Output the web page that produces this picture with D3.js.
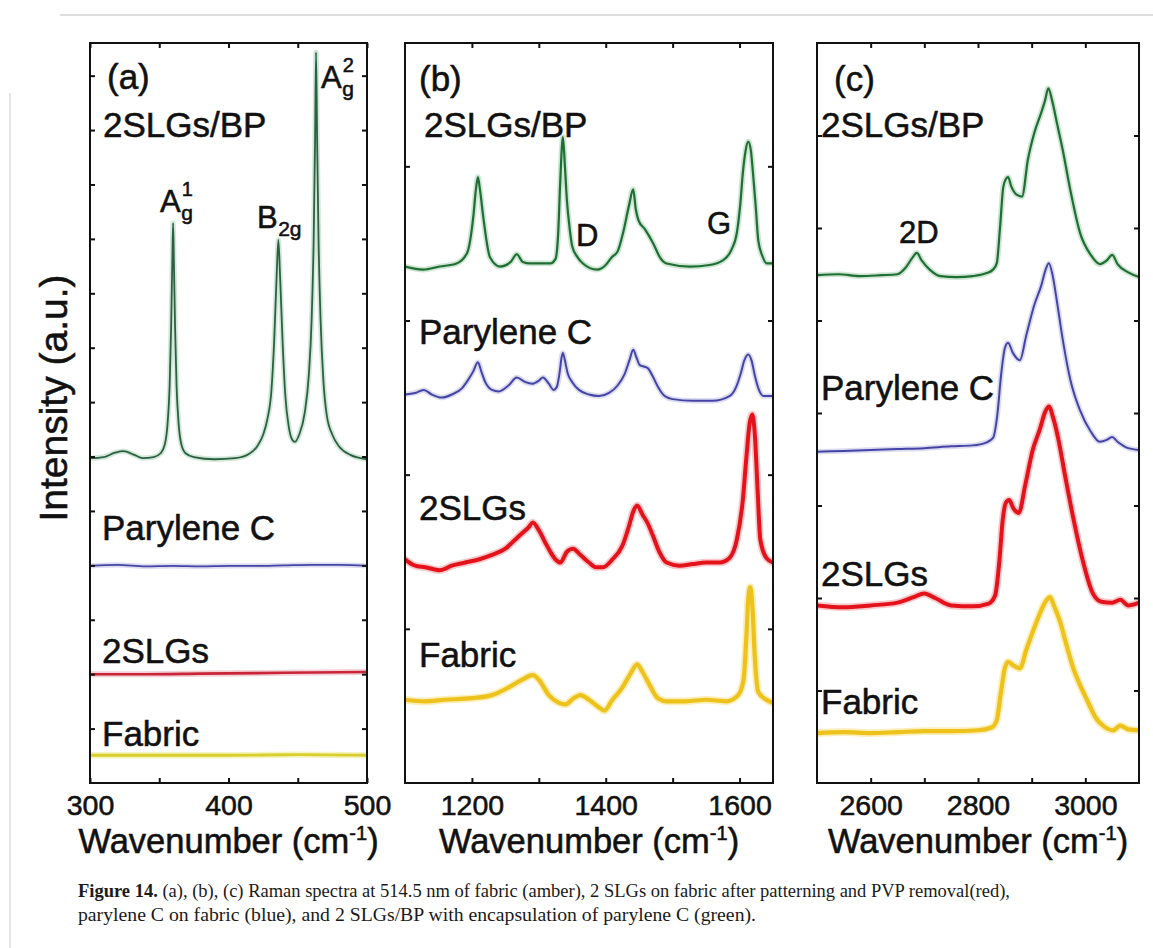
<!DOCTYPE html>
<html>
<head>
<meta charset="utf-8">
<script src="https://cdn.jsdelivr.net/npm/d3@7"></script>
<style>
  body { margin: 0; background: #fff; }
  svg { display: block; }
  text { font-family: "Liberation Sans", Arial, Helvetica, sans-serif; fill: #111; }
  text.lbl { stroke: #111; stroke-width: 0.55px; }
  .caption text { font-family: "Liberation Serif", "Times New Roman", serif; fill: #1a1a1a; }
</style>
</head>
<body>
<svg id="fig" width="1153" height="948"></svg>
<script>
// ---------- Raman spectra, intensity in arbitrary units (stacked, offset) ----------

// (a) low-wavenumber region, 300–500 cm^-1
const aBP = [[300,5.97],[310,5.99],[318,6.07],[324,6.10],[332,6.03],[338,5.97],[346,5.99],[351,6.06],[354,6.22],[356,6.60],[357.5,7.30],[358.6,8.40],[359.4,9.55],[360,10.29],[360.6,9.55],[361.4,8.40],[362.5,7.30],[364,6.60],[366,6.22],[369,6.06],[375,5.99],[390,5.95],[405,5.97],[415,6.05],[421,6.20],[425,6.40],[428,6.68],[431,7.22],[433,8.14],[434.8,9.34],[436,9.98],[437.2,9.34],[439,8.14],[441,7.13],[443.5,6.55],[446,6.31],[448,6.27],[451,6.40],[455,6.80],[458,7.50],[460,8.50],[461.5,10.00],[462.5,11.80],[463.2,13.43],[464,11.80],[465,10.00],[466.5,8.50],[468.5,7.40],[471,6.75],[475,6.40],[480,6.18],[488,6.03],[500,5.95]];
const aParylene = [[300,3.99],[320,4.01],[340,3.98],[360,3.99],[380,3.98],[400,3.99],[420,3.99],[440,4.00],[460,4.01],[480,4.01],[500,3.99]];
const aSLG = [[300,2.00],[340,2.00],[380,2.01],[420,2.02],[460,2.03],[500,2.04]];
const aFabric = [[300,0.51],[350,0.51],[400,0.51],[450,0.52],[500,0.51]];

// (b) D / G band region, 1100–1650 cm^-1
const bBP = [[1100,3.35],[1127,3.33],[1152,3.35],[1177,3.37],[1193,3.44],[1202,3.67],[1206,3.85],[1209,3.93],[1212,3.85],[1217,3.67],[1227,3.41],[1242,3.35],[1258,3.38],[1267,3.43],[1276,3.38],[1287,3.37],[1317,3.37],[1325,3.40],[1329,3.57],[1332,3.90],[1336,4.19],[1339,4.00],[1342,3.78],[1346,3.60],[1350,3.48],[1358,3.41],[1366,3.37],[1387,3.33],[1400,3.36],[1409,3.41],[1418,3.45],[1426,3.57],[1435,3.75],[1441,3.85],[1445,3.72],[1449,3.65],[1459,3.59],[1471,3.50],[1481,3.41],[1491,3.37],[1526,3.35],[1555,3.36],[1575,3.39],[1588,3.46],[1596,3.57],[1601,3.75],[1605,3.96],[1609,4.10],[1613,4.16],[1617,4.10],[1620,3.96],[1624,3.75],[1628,3.52],[1634,3.42],[1641,3.37],[1650,3.37]];
const bParylene = [[1100,2.52],[1115,2.53],[1128,2.55],[1140,2.52],[1155,2.50],[1170,2.52],[1185,2.56],[1195,2.62],[1202,2.67],[1209,2.73],[1214,2.67],[1220,2.60],[1230,2.55],[1240,2.54],[1255,2.58],[1267,2.63],[1280,2.60],[1290,2.59],[1300,2.61],[1306,2.63],[1315,2.59],[1322,2.55],[1327,2.57],[1331,2.66],[1334,2.76],[1336,2.79],[1339,2.74],[1343,2.66],[1350,2.60],[1360,2.55],[1375,2.52],[1390,2.51],[1405,2.53],[1418,2.58],[1428,2.65],[1436,2.75],[1441,2.81],[1446,2.76],[1451,2.71],[1458,2.70],[1463,2.69],[1470,2.64],[1478,2.57],[1488,2.51],[1500,2.49],[1530,2.48],[1560,2.48],[1585,2.51],[1595,2.57],[1602,2.66],[1607,2.74],[1613,2.78],[1618,2.74],[1623,2.64],[1629,2.55],[1636,2.51],[1650,2.51]];
const bSLG = [[1100,1.45],[1115,1.41],[1130,1.40],[1152,1.38],[1170,1.41],[1190,1.43],[1210,1.45],[1230,1.48],[1250,1.52],[1265,1.58],[1275,1.62],[1285,1.66],[1291,1.69],[1300,1.64],[1312,1.54],[1325,1.45],[1332,1.43],[1342,1.50],[1351,1.52],[1362,1.48],[1375,1.43],[1385,1.40],[1396,1.40],[1410,1.45],[1425,1.54],[1435,1.67],[1441,1.76],[1447,1.80],[1455,1.74],[1462,1.69],[1470,1.61],[1480,1.50],[1491,1.43],[1510,1.41],[1530,1.42],[1550,1.43],[1570,1.43],[1585,1.46],[1596,1.58],[1605,1.84],[1610,2.10],[1615,2.33],[1619,2.39],[1623,2.25],[1627,1.90],[1631,1.58],[1640,1.46],[1650,1.43]];
const bFabric = [[1100,0.54],[1130,0.53],[1160,0.54],[1200,0.55],[1230,0.57],[1255,0.62],[1275,0.67],[1291,0.70],[1300,0.67],[1315,0.57],[1330,0.52],[1340,0.51],[1352,0.55],[1362,0.57],[1375,0.54],[1390,0.49],[1398,0.47],[1410,0.54],[1425,0.62],[1437,0.71],[1447,0.77],[1455,0.72],[1465,0.64],[1478,0.55],[1491,0.53],[1520,0.53],[1550,0.54],[1580,0.53],[1598,0.57],[1606,0.67],[1610,0.93],[1613,1.19],[1616,1.27],[1619,1.16],[1623,0.80],[1628,0.59],[1640,0.54],[1650,0.52]];

// (c) 2D / C–H stretch region, 2500–3100 cm^-1
const cBP = [[2500,5.49],[2540,5.50],[2580,5.48],[2620,5.49],[2650,5.50],[2665,5.57],[2678,5.68],[2686,5.73],[2695,5.65],[2710,5.55],[2730,5.48],[2760,5.47],[2790,5.48],[2815,5.51],[2828,5.55],[2835,5.62],[2841,6.00],[2847,6.44],[2852,6.53],[2856,6.55],[2862,6.45],[2872,6.36],[2882,6.34],[2893,6.74],[2905,7.03],[2918,7.25],[2925,7.38],[2931,7.51],[2938,7.38],[2948,7.11],[2958,6.84],[2972,6.41],[2990,5.95],[3010,5.71],[3027,5.61],[3040,5.65],[3050,5.71],[3060,5.61],[3080,5.52],[3100,5.47]];
const cParylene = [[2500,3.58],[2550,3.59],[2600,3.60],[2650,3.61],[2700,3.62],[2750,3.64],[2790,3.65],[2815,3.68],[2828,3.73],[2836,3.98],[2843,4.41],[2850,4.70],[2856,4.76],[2865,4.65],[2878,4.57],[2890,4.84],[2905,5.17],[2918,5.38],[2926,5.55],[2932,5.62],[2939,5.49],[2948,5.17],[2958,4.79],[2972,4.36],[2990,4.03],[3010,3.80],[3027,3.69],[3040,3.71],[3050,3.74],[3060,3.69],[3080,3.62],[3100,3.60]];
const cSLG = [[2500,1.92],[2550,1.90],[2600,1.92],[2650,1.95],[2680,2.01],[2700,2.05],[2720,2.00],[2750,1.92],[2790,1.91],[2820,1.94],[2832,2.03],[2840,2.41],[2846,2.84],[2852,3.03],[2858,3.06],[2866,2.97],[2876,2.92],[2888,3.22],[2902,3.60],[2915,3.82],[2925,4.01],[2932,4.07],[2940,3.95],[2950,3.71],[2962,3.33],[2977,2.88],[2995,2.41],[3014,2.05],[3030,1.96],[3050,1.95],[3065,1.98],[3080,1.92],[3100,1.95]];
const cFabric = [[2500,0.54],[2550,0.55],[2600,0.54],[2650,0.55],[2700,0.56],[2750,0.56],[2800,0.57],[2825,0.60],[2835,0.68],[2842,0.95],[2850,1.24],[2856,1.31],[2866,1.27],[2878,1.24],[2890,1.44],[2905,1.68],[2918,1.87],[2928,1.98],[2934,2.01],[2942,1.91],[2952,1.76],[2965,1.49],[2977,1.25],[2990,1.06],[3003,0.90],[3020,0.70],[3035,0.61],[3052,0.57],[3065,0.62],[3080,0.58],[3100,0.57]];

// Axis ticks and tick labels
const aTicks = [300, 350, 400, 450, 500], aTickLabels = [300, 400, 500];
const bTicks = [1200, 1300, 1400, 1500, 1600], bTickLabels = [1200, 1400, 1600];
const cTicks = [2600, 2700, 2800, 2900, 3000], cTickLabels = [2600, 2800, 3000];

// Trace names and caption
const sampleNames = ["2SLGs/BP", "Parylene C", "2SLGs", "Fabric"];
const captionLines = [
  ["Figure 14.", " (a), (b), (c) Raman spectra at 514.5 nm of fabric (amber), 2 SLGs on fabric after patterning and PVP removal(red),"],
  ["", "parylene C on fabric (blue), and 2 SLGs/BP with encapsulation of parylene C (green)."]
];

// ---------- drawing ----------
const svg = d3.select("#fig");
const TOP = 43, BOTTOM = 783;

// page decoration
svg.append("line").attr("x1", 60).attr("x2", 1153).attr("y1", 15).attr("y2", 15)
  .attr("stroke", "#dedede").attr("stroke-width", 2);
svg.append("line").attr("x1", 10).attr("x2", 10).attr("y1", 93).attr("y2", 948)
  .attr("stroke", "#e6e6e6").attr("stroke-width", 2);

const style = {
  green:  { color: "#1f6e34", halo: "#cfe6d5" },
  greenA: { color: "#2b6140", halo: "#d3e8da" },
  blue:   { color: "#4444a6", halo: "#dcdcf0" },
  red:    { color: "#e3121b", halo: "#f8c9cb" },
  redA:   { color: "#c8243a", halo: "#f3d0d6" },
  yellow: { color: "#eec21c", halo: "#fbeeb8" },
  yellowA:{ color: "#d8cf2a", halo: "#f6f3c2" }
};

const panels = [
  { id: "a", left: 90, right: 367, xDomain: [300, 500], yMax: 13.6, ticks: aTicks, tickLabels: aTickLabels,
    series: [
      { data: aBP, st: style.greenA, w: 1.8 },
      { data: aParylene, st: style.blue, w: 1.8 },
      { data: aSLG, st: style.redA, w: 2.6 },
      { data: aFabric, st: style.yellowA, w: 2.8 }
    ],
    labels: [
      { t: "(a)", x: 107, y: 89 },
      { t: sampleNames[0], x: 103, y: 137 },
      { t: sampleNames[1], x: 102, y: 540 },
      { t: sampleNames[2], x: 102, y: 663 },
      { t: sampleNames[3], x: 102, y: 746 }
    ],
    modes: [
      { base: "A", sup: "1", sub: "g", x: 160, y: 212 },
      { base: "B", sub: "2g", x: 257, y: 228 },
      { base: "A", sup: "2", sub: "g", x: 321, y: 88 }
    ]
  },
  { id: "b", left: 405, right: 773, xDomain: [1100, 1650], yMax: 4.8, ticks: bTicks, tickLabels: bTickLabels,
    series: [
      { data: bBP, st: style.green, w: 2.2 },
      { data: bParylene, st: style.blue, w: 2.0 },
      { data: bSLG, st: style.red, w: 4.0 },
      { data: bFabric, st: style.yellow, w: 4.2 }
    ],
    labels: [
      { t: "(b)", x: 419, y: 91 },
      { t: sampleNames[0], x: 424, y: 137 },
      { t: sampleNames[1], x: 419, y: 344 },
      { t: sampleNames[2], x: 419, y: 520 },
      { t: sampleNames[3], x: 419, y: 667 }
    ],
    modes: [
      { base: "D", x: 576, y: 246 },
      { base: "G", x: 707, y: 234 }
    ]
  },
  { id: "c", left: 817, right: 1139, xDomain: [2500, 3100], yMax: 8, ticks: cTicks, tickLabels: cTickLabels,
    series: [
      { data: cBP, st: style.green, w: 2.2 },
      { data: cParylene, st: style.blue, w: 2.0 },
      { data: cSLG, st: style.red, w: 4.0 },
      { data: cFabric, st: style.yellow, w: 4.2 }
    ],
    labels: [
      { t: "(c)", x: 834, y: 91 },
      { t: sampleNames[0], x: 821, y: 137 },
      { t: sampleNames[1], x: 821, y: 400 },
      { t: sampleNames[2], x: 821, y: 586 },
      { t: sampleNames[3], x: 821, y: 714 }
    ],
    modes: [
      { base: "2D", x: 899, y: 243 }
    ]
  }
];

panels.forEach(p => {
  const x = d3.scaleLinear().domain(p.xDomain).range([p.left, p.right]);
  const y = d3.scaleLinear().domain([0, p.yMax]).range([BOTTOM, TOP]);
  const g = svg.append("g").attr("class", "panel-" + p.id);

  g.append("clipPath").attr("id", "clip-" + p.id)
    .append("rect").attr("x", p.left).attr("y", TOP)
    .attr("width", p.right - p.left).attr("height", BOTTOM - TOP);

  // spectra
  const plot = g.append("g").attr("clip-path", `url(#clip-${p.id})`);
  const line = d3.line().x(d => x(d[0])).y(d => y(d[1])).curve(d3.curveMonotoneX);
  p.series.forEach(s => {
    plot.append("path").attr("d", line(s.data)).attr("fill", "none")
      .attr("stroke", s.st.halo).attr("stroke-width", s.w + 3.5)
      .attr("stroke-linejoin", "round").attr("stroke-linecap", "round");
  });
  p.series.forEach(s => {
    plot.append("path").attr("d", line(s.data)).attr("fill", "none")
      .attr("stroke", s.st.color).attr("stroke-width", s.w)
      .attr("stroke-linejoin", "round").attr("stroke-linecap", "round");
  });

  // axes: inward ticks on all four sides
  const yTicks = d3.range(1, Math.ceil(p.yMax));
  const axes = [
    { ax: d3.axisBottom(x).tickValues(p.ticks).tickFormat(d => p.tickLabels.includes(d) ? d : ""), tr: `translate(0,${BOTTOM})` },
    { ax: d3.axisTop(x).tickValues(p.ticks).tickFormat(""), tr: `translate(0,${TOP})` },
    { ax: d3.axisLeft(y).tickValues(yTicks).tickFormat(""), tr: `translate(${p.left},0)` },
    { ax: d3.axisRight(y).tickValues(yTicks).tickFormat(""), tr: `translate(${p.right},0)` }
  ];
  axes.forEach(a => {
    const ag = g.append("g").attr("transform", a.tr)
      .call(a.ax.tickSizeInner(-5).tickSizeOuter(0).tickPadding(12));
    ag.select(".domain").remove();
    ag.selectAll(".tick line").attr("stroke", "#111").attr("stroke-width", 2);
    ag.selectAll(".tick text").attr("class", "lbl")
      .style("font-family", '"Liberation Sans", Arial, sans-serif')
      .style("font-size", "28.5px").attr("fill", "#111");
  });

  g.append("rect").attr("x", p.left).attr("y", TOP)
    .attr("width", p.right - p.left).attr("height", BOTTOM - TOP)
    .attr("fill", "none").attr("stroke", "#111").attr("stroke-width", 2);

  // sample labels
  p.labels.forEach(l => {
    g.append("text").attr("class", "lbl").attr("x", l.x).attr("y", l.y).style("font-size", "35px").text(l.t);
  });

  // Raman mode labels with sub/superscripts
  p.modes.forEach(m => {
    const t = g.append("text").attr("class", "lbl").attr("x", m.x).attr("y", m.y).style("font-size", "31px").text(m.base);
    const w = t.node().getComputedTextLength();
    if (m.sup) g.append("text").attr("class", "lbl").attr("x", m.x + w + 1).attr("y", m.y - 16).style("font-size", "20px").text(m.sup);
    if (m.sub) g.append("text").attr("class", "lbl").attr("x", m.x + w + 0.5).attr("y", m.y + 8).style("font-size", "21px").text(m.sub);
  });

  // x-axis title
  const cx = (p.left + p.right) / 2;
  const xt = g.append("text").attr("class", "lbl").attr("x", cx).attr("y", 853)
    .attr("text-anchor", "middle").style("font-size", "34.5px");
  xt.append("tspan").text("Wavenumber (cm");
  xt.append("tspan").attr("dy", -13).style("font-size", "20px").text("-1");
  xt.append("tspan").attr("dy", 13).text(")");
});

// shared y-axis title
svg.append("text").attr("class", "lbl").attr("transform", "translate(67,398) rotate(-90)")
  .attr("text-anchor", "middle").style("font-size", "39px").text("Intensity (a.u.)");

// caption, each line set to its printed width
const captionWidths = [932, 678];
const cap = svg.append("g").attr("class", "caption");
captionLines.forEach((ln, i) => {
  const t = cap.append("text").attr("x", 78).attr("y", 897 + i * 24).style("font-size", "18.5px")
    .attr("textLength", captionWidths[i]).attr("lengthAdjust", "spacingAndGlyphs");
  if (ln[0]) t.append("tspan").style("font-weight", "bold").text(ln[0]);
  t.append("tspan").text(ln[1]);
});
</script>
</body>
</html>
